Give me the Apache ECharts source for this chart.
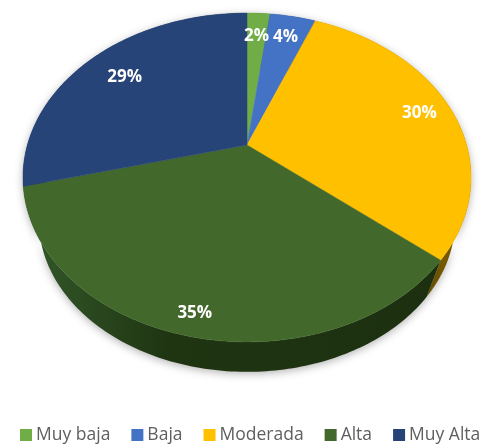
<!DOCTYPE html>
<html><head><meta charset="utf-8">
<style>html,body{margin:0;padding:0;background:#fff}#c{width:483px;height:445px}</style>
<script src="https://cdn.jsdelivr.net/npm/echarts@6/dist/echarts.min.js"></script>
</head><body><div id="c"></div>
<script>
const categories = ['Muy baja','Baja','Moderada','Alta','Muy Alta'];
const values = [2,4,30,35,29];
const faceColors = ['#70AD47','#4472C4','#FFC000','#43682B','#264478'];
const wallStart = ['#4f7a32','#2f5290','#a07800','#33592a','#1a3056'];
const wallMid = ['#456c2c','#2a4a82','#8a6800','#1f3512','#172a4c'];
const wallEnd = ['#3f6228','#264478','#6f5400','#1c3010','#14253f'];
const labelReach = [0.83,0.84,0.85,0.88,0.79];

// perspective model of the tilted disc
const hubX = 247, hubY = 145, a = 219.6, b = 158, k = 0.1976;
const floorScaleX = 0.929, floorScaleY = 0.921, floorShift = 45.5;
const total = values.reduce((s,v)=>s+v,0);

function rim(deg){
  const t = deg*Math.PI/180, u = Math.sin(t), v = -Math.cos(t), d = 1-k*v;
  return [a*u/d, b*v/d];
}
const top_ = p => [hubX+p[0], hubY+p[1]];
const floor_ = p => [hubX+p[0]*floorScaleX, hubY+p[1]*floorScaleY+floorShift];

function arc(from,to){
  const pts=[], n=Math.max(2,Math.ceil((to-from)));
  for(let i=0;i<=n;i++) pts.push(rim(from+(to-from)*i/n));
  return pts;
}
const series = categories.map((name,idx)=>{
  const before = values.slice(0,idx).reduce((s,v)=>s+v,0);
  return {
    type:'custom', name, coordinateSystem:'none',
    itemStyle:{color:faceColors[idx]},
    data:[values[idx]],
    renderItem(params,api){
      const val = api.value(0);
      const from = before/total*360, to = (before+val)/total*360;
      const pts = arc(from,to);
      const face = [[hubX,hubY]].concat(pts.map(top_));
      const wall = pts.map(top_).concat(pts.slice().reverse().map(floor_));
      const m = rim((from+to)/2), f = labelReach[idx];
      return {type:'group',children:[
        {type:'polygon',z2:1,shape:{points:wall},style:{
          fill:{type:'linear',x:0,y:0,x2:1,y2:0,colorStops:[{offset:0,color:wallStart[idx]},{offset:0.35,color:wallMid[idx]},{offset:1,color:wallEnd[idx]}]},
          shadowBlur:8,shadowColor:'rgba(0,0,0,0.3)',shadowOffsetX:0,shadowOffsetY:2}},
        {type:'polygon',z2:2,shape:{points:face},style:{fill:faceColors[idx],stroke:faceColors[idx],lineWidth:0.5}},
        {type:'text',z2:3,x:hubX+m[0]*f,y:hubY+m[1]*f,style:{text:val+'%',fill:'#fff',
          font:'700 17px "Open Sans"',align:'center',verticalAlign:'middle'}}
      ]};
    }
  };
});
const chart = echarts.init(document.getElementById('c'),null,{renderer:'canvas'});
chart.setOption({
  animation:false,
  backgroundColor:'#fff',
  legend:{data:categories,left:20,top:426,padding:0,icon:'rect',itemWidth:12,itemHeight:12,itemGap:21,
    textStyle:{color:'#5f5f5f',fontSize:17.5,fontFamily:'"Open Sans"',padding:[0,0,0,-1]}},
  series
});
</script></body></html>
